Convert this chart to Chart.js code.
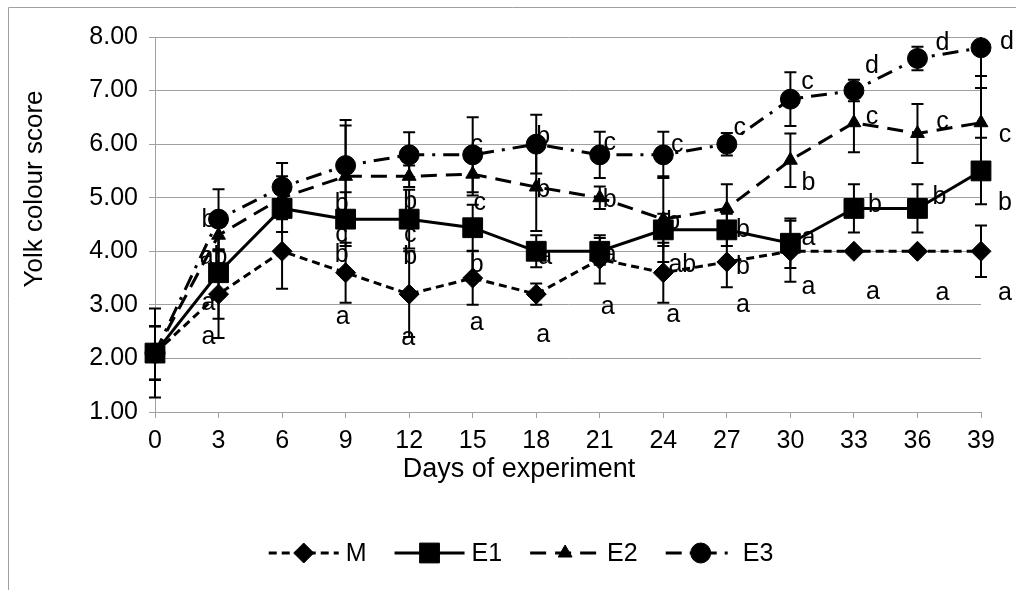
<!DOCTYPE html>
<html>
<head>
<meta charset="utf-8">
<script src="https://cdn.jsdelivr.net/npm/chart.js@4.4.1/dist/chart.umd.min.js"></script>
<style>
    html, body { margin: 0; padding: 0; background: #fff; }
    canvas { display: block; }
</style>
</head>
<body>
<canvas id="chart-yolk" width="1016" height="590"></canvas>
<script>
// Yolk colour score by day, groups M, E1, E2, E3 (mean, error, letters)

const DAYS = [0, 3, 6, 9, 12, 15, 18, 21, 24, 27, 30, 33, 36, 39];
const Y_TICKS = [1, 2, 3, 4, 5, 6, 7, 8];
const SERIES_NAMES = ['M', 'E1', 'E2', 'E3'];

const M_MEAN  = [2.1, 3.2, 4.0, 3.6, 3.2, 3.5, 3.2, 3.85, 3.6, 3.8, 4.0, 4.0, 4.0, 4.0];
const E1_MEAN = [2.1, 3.6, 4.8, 4.6, 4.6, 4.44, 4.0, 4.0, 4.4, 4.4, 4.15, 4.8, 4.8, 5.5];
const E2_MEAN = [2.1, 4.3, 5.0, 5.4, 5.4, 5.44, 5.2, 5.0, 4.6, 4.8, 5.7, 6.4, 6.2, 6.4];
const E3_MEAN = [2.1, 4.6, 5.2, 5.6, 5.8, 5.8, 6.0, 5.8, 5.8, 6.0, 6.84, 7.0, 7.6, 7.8];

const M_ERR  = [0.5, 0.82, 0.7, 0.56, 0.8, 0.5, 0.2, 0.45, 0.56, 0.47, 0.57, 0, 0, 0.48];
const E1_ERR = [0.83, 0.86, 0.44, 0.5, 0.55, 0.43, 0.3, 0.25, 0.3, 0.3, 0.46, 0.45, 0.45, 0.62];
const E2_ERR = [0.5, 0.3, 0.4, 0.95, 0.2, 0.4, 0.82, 0.21, 0.8, 0.45, 0.5, 0.55, 0.55, 0.87];
const E3_ERR = [0.5, 0.56, 0.45, 0.85, 0.42, 0.7, 0.55, 0.43, 0.43, 0.21, 0.5, 0.2, 0.22, 0.75];

const M_LETTERS  = ['', 'a', '', 'a', 'a', 'a', 'a', 'a', 'a', 'a', 'a', 'a', 'a', 'a'];
const E1_LETTERS = ['', 'a', '', 'b', 'b', 'b', 'a', 'a', 'ab', 'b', 'a', 'b', 'b', 'b'];
const E2_LETTERS = ['', 'ab', '', 'c', 'c', 'c', 'b', 'b', 'b', 'b', 'b', 'c', 'c', 'c'];
const E3_LETTERS = ['', 'b', '', 'b', 'b', 'c', 'b', 'c', 'c', 'c', 'c', 'd', 'd', 'd'];

// nudges of the letters from their point, in px (layout only)
const LETTER_NUDGE = {
    M:  [[0,0],[-10,43],[0,0],[-3,44],[-1,44],[4,45],[7,41],[8,48],[10,42],[16,43],[18,36],[19,41],[25,42],[24,42]],
    E1: [[0,0],[-10,30],[0,0],[-4,36],[1,38],[4,37],[9,6],[10,4],[19,35],[16,37],[18,-5],[21,-3],[22,-11],[24,32]],
    E2: [[0,0],[-5,22],[0,0],[-4,59],[1,59],[7,29],[7,3],[10,2],[10,3],[16,22],[18,23],[18,-6],[25,-11],[24,12]],
    E3: [[0,0],[-10,1],[0,0],[-4,39],[1,47],[4,-10],[7,-7],[10,-12],[14,-10],[13,-16],[17,-17],[18,-24],[25,-15],[26,-6]]
};

const FONTE = "'Liberation Sans', Arial, sans-serif";
const CINZA = '#a0a0a0';

Chart.defaults.font.family = FONTE;
Chart.defaults.font.size = 25;
Chart.defaults.color = '#000';

function montarPontos(medias) {
    return DAYS.map((d, i) => ({ x: d, y: medias[i] }));
}

function desenharMarcador(ctx, ds, x, y) {
    ctx.save();
    ctx.setLineDash([]);
    ctx.fillStyle = '#000';
    ctx.strokeStyle = '#000';
    Chart.helpers.drawPoint(ctx, {
        pointStyle: ds.pointStyle,
        radius: ds.pointRadius,
        rotation: 0,
        borderWidth: 1
    }, x, y);
    ctx.restore();
}

const pluginMoldura = {
    id: 'moldura',
    beforeDraw(chart) {
        const ctx = chart.ctx;
        ctx.save();
        ctx.strokeStyle = CINZA;
        ctx.lineWidth = 1;
        ctx.beginPath();
        ctx.moveTo(8.5, chart.height);
        ctx.lineTo(8.5, 7.5);
        ctx.lineTo(chart.width, 7.5);
        ctx.stroke();
        ctx.restore();
    }
};

const pluginBarrasErro = {
    id: 'barrasErro',
    beforeDatasetsDraw(chart) {
        const { ctx, chartArea, scales } = chart;
        ctx.save();
        ctx.beginPath();
        ctx.rect(chartArea.left - 10, chartArea.top, chartArea.width + 20, chartArea.height);
        ctx.clip();
        ctx.strokeStyle = '#000';
        ctx.lineWidth = 2;
        chart.data.datasets.forEach((ds) => {
            ds.data.forEach((p, i) => {
                const e = ds.erros[i];
                if (!e) return;
                const px = scales.x.getPixelForValue(p.x);
                const topo = scales.y.getPixelForValue(p.y + e);
                const base = scales.y.getPixelForValue(p.y - e);
                ctx.beginPath();
                ctx.moveTo(px, topo); ctx.lineTo(px, base);
                ctx.moveTo(px - 6, topo); ctx.lineTo(px + 6, topo);
                ctx.moveTo(px - 6, base); ctx.lineTo(px + 6, base);
                ctx.stroke();
            });
        });
        ctx.restore();
    }
};

const pluginLetras = {
    id: 'letras',
    afterDatasetsDraw(chart) {
        const { ctx, scales } = chart;
        ctx.save();
        ctx.font = '25px ' + FONTE;
        ctx.fillStyle = '#000';
        ctx.textAlign = 'center';
        ctx.textBaseline = 'middle';
        chart.data.datasets.forEach((ds) => {
            ds.data.forEach((p, i) => {
                const letra = ds.letras[i];
                if (!letra) return;
                const [dx, dy] = LETTER_NUDGE[ds.label][i];
                ctx.fillText(letra, scales.x.getPixelForValue(p.x) + dx, scales.y.getPixelForValue(p.y) + dy);
            });
        });
        ctx.restore();
    }
};

const pluginTitulosLegenda = {
    id: 'titulosLegenda',
    afterDraw(chart) {
        const ctx = chart.ctx;
        ctx.save();
        ctx.fillStyle = '#000';
        ctx.textBaseline = 'middle';

        // axis titles
        ctx.textAlign = 'center';
        ctx.font = '27px ' + FONTE;
        ctx.fillText('Days of experiment', 519, 470);
        ctx.font = '26px ' + FONTE;
        ctx.save();
        ctx.translate(35, 189);
        ctx.rotate(-Math.PI / 2);
        ctx.fillText('Yolk colour score', 0, 0);
        ctx.restore();

        // legend: line sample + marker + name
        ctx.font = '25px ' + FONTE;
        const linha = 70, folga = 7, espaco = 28, yLeg = 553;
        const larguras = chart.data.datasets.map(ds => linha + folga + ctx.measureText(ds.label).width);
        const total = larguras.reduce((s, w) => s + w, 0) + espaco * (larguras.length - 1);
        let x = 521 - total / 2;
        ctx.textAlign = 'left';
        chart.data.datasets.forEach((ds, i) => {
            ctx.save();
            ctx.strokeStyle = '#000';
            ctx.lineWidth = ds.borderWidth;
            ctx.setLineDash(ds.borderDash || []);
            ctx.beginPath();
            ctx.moveTo(x, yLeg);
            ctx.lineTo(x + linha, yLeg);
            ctx.stroke();
            ctx.restore();
            desenharMarcador(ctx, ds, x + linha / 2, yLeg);
            ctx.fillText(ds.label, x + linha + folga, yLeg + 1);
            x += larguras[i] + espaco;
        });
        ctx.restore();
    }
};

function criarDataset(nome, medias, erros, letras, estilo) {
    return Object.assign({
        label: nome,
        data: montarPontos(medias),
        erros: erros,
        letras: letras,
        borderColor: '#000',
        backgroundColor: '#000',
        pointBackgroundColor: '#000',
        pointBorderColor: '#000',
        pointBorderWidth: 1,
        borderWidth: 3,
        tension: 0,
        clip: false
    }, estilo);
}

const ctx = document.getElementById('chart-yolk');

new Chart(ctx, {
    type: 'line',
    data: {
        datasets: [
            criarDataset(SERIES_NAMES[0], M_MEAN, M_ERR, M_LETTERS, { borderDash: [8, 5], pointStyle: 'rectRot', pointRadius: 10 }),
            criarDataset(SERIES_NAMES[1], E1_MEAN, E1_ERR, E1_LETTERS, { pointStyle: 'rect', pointRadius: 14 }),
            criarDataset(SERIES_NAMES[2], E2_MEAN, E2_ERR, E2_LETTERS, { borderDash: [16, 9], pointStyle: 'triangle', pointRadius: 8 }),
            criarDataset(SERIES_NAMES[3], E3_MEAN, E3_ERR, E3_LETTERS, { borderDash: [16, 8, 3, 8], pointStyle: 'circle', pointRadius: 10 })
        ]
    },
    options: {
        responsive: false,
        animation: false,
        layout: { padding: { top: 37, right: 35, left: 0, bottom: 0 } },
        plugins: {
            legend: { display: false },
            tooltip: { enabled: false }
        },
        scales: {
            x: {
                type: 'linear',
                min: DAYS[0],
                max: DAYS[DAYS.length - 1],
                afterFit: (s) => { s.height = 178; },
                afterBuildTicks: (s) => { s.ticks = DAYS.map(v => ({ value: v })); },
                ticks: { padding: 8, callback: v => String(v) },
                grid: { drawOnChartArea: false, tickLength: 6, color: CINZA },
                border: { color: CINZA, width: 1 }
            },
            y: {
                min: Y_TICKS[0],
                max: Y_TICKS[Y_TICKS.length - 1],
                afterFit: (s) => { s.width = 155; },
                afterBuildTicks: (s) => { s.ticks = Y_TICKS.map(v => ({ value: v })); },
                ticks: { padding: 11, callback: v => v.toFixed(2) },
                grid: { color: CINZA, tickLength: 6, lineWidth: 1 },
                border: { color: CINZA, width: 1 }
            }
        }
    },
    plugins: [pluginMoldura, pluginBarrasErro, pluginLetras, pluginTitulosLegenda]
});
</script>
</body>
</html>
